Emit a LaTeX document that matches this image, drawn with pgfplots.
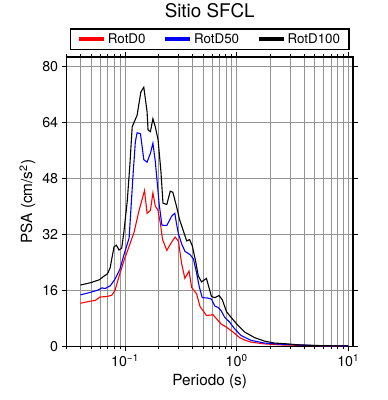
\documentclass[border=0pt]{standalone}
\usepackage{fontspec}
\setmainfont{TeX Gyre Heros}
\usepackage{pgfplots}
\pgfplotsset{compat=1.18}
\begin{document}
\begin{tikzpicture}
\begin{axis}[
  xmode=log, scale only axis, width=288bp, height=291bp,
  xmin=0.03, xmax=11, ymin=0, ymax=82.6,
  xtick={0.1,1,10},
  xticklabels={10\textsuperscript{−1},10\textsuperscript{0},10\textsuperscript{1}},
  minor xtick={0.03,0.04,0.05,0.06,0.07,0.08,0.09,0.2,0.3,0.4,0.5,0.6,0.7,0.8,0.9,2,3,4,5,6,7,8,9},
  ytick={0,16,32,48,64,80},
  xmajorgrids, xminorgrids, ymajorgrids,
  grid style={black!42, line width=0.45bp},
  minor grid style={black!42, line width=0.45bp},
  tick align=outside,
  major tick length=5bp, minor tick length=3bp,
  every tick/.style={black, line width=0.6bp},
  axis line style={line width=1.6bp},
  /pgf/number format/assume math mode=true,
  ticklabel style={font=\fontsize{14.4}{16}\selectfont},
  label style={font=\fontsize{15.5}{18}\selectfont},
  xlabel={Periodo (s)},
  ylabel={PSA (cm/s\textsuperscript{2})},
  title={Sitio SFCL},
  title style={font=\fontsize{19}{22}\selectfont, at={(0.5,1)}, anchor=base, yshift=34bp},
  legend columns=3,
  legend style={at={(0.5,1)}, anchor=south, yshift=7bp, draw=black, line width=1.6bp,
    font=\fontsize{13.5}{15}\selectfont, inner xsep=7bp, inner ysep=2.5bp,
    /tikz/every even column/.append style={column sep=16bp}},
  legend image code/.code={\draw[#1, line width=3.8bp] (0bp,0bp) -- (25bp,0bp);},
]
\addplot[red, line width=1.1bp] coordinates {
(0.0399,12.3)(0.049,12.9)(0.0542,13.1)(0.0599,14.1)(0.0685,14.2)(0.0762,14.6)(0.0815,16.0)(0.0885,20.0)(0.098,24.5)(0.1087,28.5)(0.1205,32.5)(0.133,38.5)(0.1497,44.5)(0.1578,38.0)(0.169,38.8)(0.178,43.8)(0.187,40.0)(0.197,39.0)(0.2074,35.2)(0.2172,30.5)(0.237,27.4)(0.2625,29.8)(0.2815,31.2)(0.3015,30.0)(0.312,26.6)(0.3225,23.5)(0.344,19.4)(0.375,21.5)(0.396,16.8)(0.438,15.0)(0.47,11.4)(0.537,8.8)(0.616,9.0)(0.673,7.6)(0.726,6.4)(0.809,5.5)(0.927,4.1)(1.063,2.5)(1.2,1.7)(1.348,1.2)(1.772,0.7)(2.5,0.4)(3.5,0.3)(5,0.2)(7,0.12)(10,0.08)};
\addlegendentry{RotD0}
\addplot[blue, line width=1.1bp] coordinates {
(0.0399,14.7)(0.049,15.4)(0.0578,16.1)(0.062,16.7)(0.0664,16.5)(0.0739,17.3)(0.0815,19.2)(0.09,22.0)(0.0987,26.5)(0.1067,30.0)(0.109,31.0)(0.1128,38.6)(0.1187,49.9)(0.1239,58.4)(0.1285,61.0)(0.1377,60.7)(0.1475,53.3)(0.1578,52.6)(0.169,55.1)(0.178,58.0)(0.187,52.8)(0.196,45.7)(0.2025,40.6)(0.2143,34.6)(0.237,34.5)(0.2625,37.2)(0.2795,38.0)(0.289,35.2)(0.3015,32.1)(0.3225,29.2)(0.3453,27.1)(0.3829,26.2)(0.41,25.0)(0.438,21.0)(0.463,17.0)(0.4924,13.9)(0.548,13.8)(0.595,13.5)(0.638,11.5)(0.682,11.1)(0.726,10.2)(0.782,8.3)(0.867,6.9)(0.96,5.0)(1.098,3.1)(1.348,1.7)(1.772,0.94)(2.33,0.65)(3.5,0.4)(5,0.22)(7,0.13)(10,0.09)};
\addlegendentry{RotD50}
\addplot[black, line width=1.1bp] coordinates {
(0.0399,17.5)(0.0496,18.2)(0.0588,19.0)(0.0652,20.1)(0.0697,20.7)(0.0736,22.4)(0.0798,28.4)(0.0837,28.9)(0.0885,27.5)(0.0935,28.0)(0.098,32.9)(0.1048,41.4)(0.1107,51.9)(0.1161,62.7)(0.1285,66.0)(0.1387,72.6)(0.1475,74.0)(0.1578,67.0)(0.161,61.8)(0.169,61.3)(0.178,65.0)(0.187,62.7)(0.198,59.0)(0.210,49.9)(0.219,40.9)(0.237,40.5)(0.2545,44.3)(0.2685,44.0)(0.291,39.7)(0.3078,36.3)(0.334,32.9)(0.357,30.1)(0.379,30.5)(0.401,28.7)(0.429,24.4)(0.454,20.1)(0.485,18.4)(0.537,19.4)(0.596,14.2)(0.638,13.9)(0.697,14.5)(0.745,13.3)(0.812,9.9)(0.896,8.2)(1.027,6.0)(1.178,4.1)(1.445,2.5)(1.772,1.5)(2.174,0.94)(2.85,0.7)(3.5,0.45)(5,0.25)(7,0.15)(10,0.1)};
\addlegendentry{RotD100}
\coordinate (ll) at (rel axis cs:0,0);
\coordinate (ur) at (rel axis cs:1,1);
\end{axis}
\path ([shift={(-67bp,-54bp)}]ll) rectangle ([shift={(35bp,55bp)}]ur);
\end{tikzpicture}
\end{document}
